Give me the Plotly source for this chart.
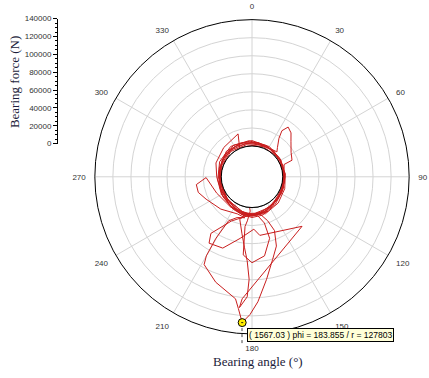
import plotly.graph_objects as go

# ---- data (bearing angle in degrees, bearing force in N) ----
angle_deg = [200, 230, 260, 290, 320, 350, 20, 45, 41, 35, 33, 36, 41.6, 48, 58, 67.5, 69, 80,
             100, 130, 160, 180, 200, 225, 250, 277, 56.8, 75, 110, 140, 165, 180, 195, 215, 240,
             270, 291, 316, 342, 338, 183, 186, 188, 186.4, 180, 171, 164, 165, 172, 190, 215,
             245, 269, 262, 253.8, 244, 224, 201.5, 190, 200, 208, 210.4, 210, 208.6, 199, 187.7,
             185.9, 183.855, 180.8, 177.3, 171.9, 166.1, 160.6, 157.3, 160.4, 170, 185, 205, 216,
             212.9, 202.3, 190.8, 178, 172.4, 134.7, 184.6, 185.5, 182.3, 181.6, 183.3, 186, 190,
             196, 188, 175, 150, 120, 90, 60, 30, 0, 330, 300, 270, 240, 210, 185, 160, 135, 110,
             85, 60, 35, 10, 345, 315, 285, 255, 225, 195, 175, 155,
             180, 200, 220, 250, 280, 310, 340, 10, 40, 70, 100, 130, 155, 175,
             190, 210, 235, 265, 295, 325, 355, 25, 55, 85, 115, 145, 168,
             185, 205, 230, 260, 290, 320, 350, 20, 50, 80, 110, 140, 165, 180,
             195, 215, 240, 270, 300, 330, 0, 30, 60, 90, 120, 150, 172, 188]
force_N = [5000, 3000, 1500, 2500, 4000, 3500, 3000, 5000, 8900, 18000, 26800, 34000, 31000,
           24000, 17000, 13900, 4000, 2000, 2500, 4000, 7000, 9000, 7000, 4000, 2500, 800, 0,
           1500, 3000, 6000, 10000, 11000, 9000, 6000, 5000, 5000, 8700, 11000, 15900, 3300,
           4000, 15000, 21500, 53000, 61100, 54600, 36800, 19000, 9000, 8000, 7000, 9000, 16800,
           28200, 27900, 22500, 15700, 10100, 12000, 14000, 21100, 44900, 67100, 76700, 89400,
           102300, 112700, 127803, 118400, 104500, 80600, 60600, 47300, 30400, 17600, 6000,
           9000, 20000, 43400, 53500, 51300, 35300, 24000, 31400, 43900, 101500, 111500, 99000,
           79500, 59000, 45000, 30000, 15000, 7000, 6500, 5000, 3500, 2500, 3000, 4500, 6000,
           6500, 4000, 2000, 2500, 5500, 8000, 9500, 7000, 4500, 3000, 2000, 2500, 3500, 5000,
           6000, 3500, 1500, 3000, 6000, 8500, 8000,
           9500, 8000, 5500, 3500, 3000, 4500, 5500, 4500, 3500, 2500, 2000, 3500, 6500, 9000,
           10500, 7500, 5000, 4000, 5500, 7000, 6000, 4000, 3000, 2500, 3000, 5500, 8500,
           7500, 6000, 2500, 1000, 1500, 2500, 2000, 1500, 1500, 1000, 1500, 3500, 6500, 8000,
           9000, 6500, 4500, 3000, 3500, 4500, 4000, 3000, 2000, 1500, 2500, 4500, 7500, 9500]

cursor_angle = [183.855]
cursor_force = [127803]
cursor_label = "( 1567.03 ) phi = 183.855 / r = 127803"

radial_ticks = [0, 20000, 40000, 60000, 80000, 100000, 120000, 140000]
angle_ticks = [0, 30, 60, 90, 120, 150, 180, 210, 240, 270, 300, 330]
angle_labels = [str(a) for a in angle_ticks]

fig = go.Figure()

# inner reference circle (r = 0 at the hole edge)
ring_theta = list(range(0, 361, 3))
fig.add_trace(go.Scatterpolar(
    theta=ring_theta, r=[0] * len(ring_theta),
    mode="lines", line=dict(color="black", width=1), hoverinfo="skip"))

fig.add_trace(go.Scatterpolar(
    theta=angle_deg, r=force_N, mode="lines",
    line=dict(color="#c81e1e", width=1), hoverinfo="skip"))

fig.add_trace(go.Scatterpolar(
    theta=cursor_angle, r=cursor_force, mode="markers",
    marker=dict(symbol="circle-dot", size=8, color="#ffee00",
                line=dict(color="black", width=1)), hoverinfo="skip"))

# separate linear radial scale drawn at left
fig.add_trace(go.Scatter(x=[0, 0], y=[radial_ticks[0], radial_ticks[-1]], mode="markers",
                         marker=dict(opacity=0), hoverinfo="skip",
                         xaxis="x", yaxis="y"))

W, H = 429, 378
cx, cy, R = 252, 177, 161
fig.update_layout(
    width=W, height=H,
    margin=dict(l=0, r=0, t=0, b=0),
    paper_bgcolor="white", plot_bgcolor="white",
    showlegend=False,
    polar=dict(
        domain=dict(x=[(cx - R) / W, (cx + R) / W], y=[(H - cy - R) / H, (H - cy + R) / H]),
        bgcolor="white",
        hole=31.5 / 161,
        radialaxis=dict(range=[0, 140000], tickvals=radial_ticks, showticklabels=False,
                        ticks="", showline=False, gridcolor="#d4d4d4", gridwidth=1),
        angularaxis=dict(rotation=90, direction="clockwise", tickmode="array",
                         tickvals=angle_ticks, ticktext=angle_labels,
                         gridcolor="#d4d4d4", gridwidth=1, linecolor="black", linewidth=1,
                         ticks="outside", ticklen=7, tickcolor="rgba(0,0,0,0)",
                         tickfont=dict(family="Liberation Sans, Arial", size=8, color="#333"))),
    xaxis=dict(domain=[58 / W, 60 / W], visible=False, range=[0, 1], fixedrange=True),
    yaxis=dict(domain=[(H - 143) / H, (H - 15) / H], range=[0, 140000],
               tickvals=radial_ticks, tickformat="d", showline=True, linecolor="black",
               linewidth=1, ticks="outside", ticklen=4, tickcolor="black", showgrid=False,
               zeroline=False, tickfont=dict(family="Liberation Sans, Arial", size=8, color="#333"),
               minor=dict(ticks="outside", ticklen=2, dtick=5000, tickcolor="black"),
               anchor="x", fixedrange=True),
    annotations=[
        dict(text="Bearing force (N)", x=14 / W, y=(H - 80) / H, xref="paper", yref="paper",
             xanchor="center", yanchor="middle", textangle=-90, showarrow=False,
             font=dict(family="Liberation Serif, Times New Roman", size=13, color="#1c1c3a")),
        dict(text="Bearing angle (°)", x=258 / W, y=(H - 366) / H, xref="paper", yref="paper",
             xanchor="center", yanchor="middle", showarrow=False,
             font=dict(family="Liberation Serif, Times New Roman", size=13, color="#1c1c3a")),
        dict(text=cursor_label, x=247 / W, y=(H - 339) / H, xref="paper", yref="paper",
             xanchor="left", yanchor="middle", showarrow=False, bgcolor="#ffffd8",
             bordercolor="black", borderwidth=1, borderpad=1,
             font=dict(family="Liberation Sans, Arial", size=8.5, color="black")),
    ],
    shapes=[dict(type="line", xref="paper", yref="paper", x0=242 / W, x1=242 / W,
                 y0=(H - 332) / H, y1=(H - 350) / H,
                 line=dict(color="#444", width=1, dash="dot"))],
)

fig.write_html("out.html", config={"displayModeBar": False},
               post_script="document.body.style.margin='0';")
